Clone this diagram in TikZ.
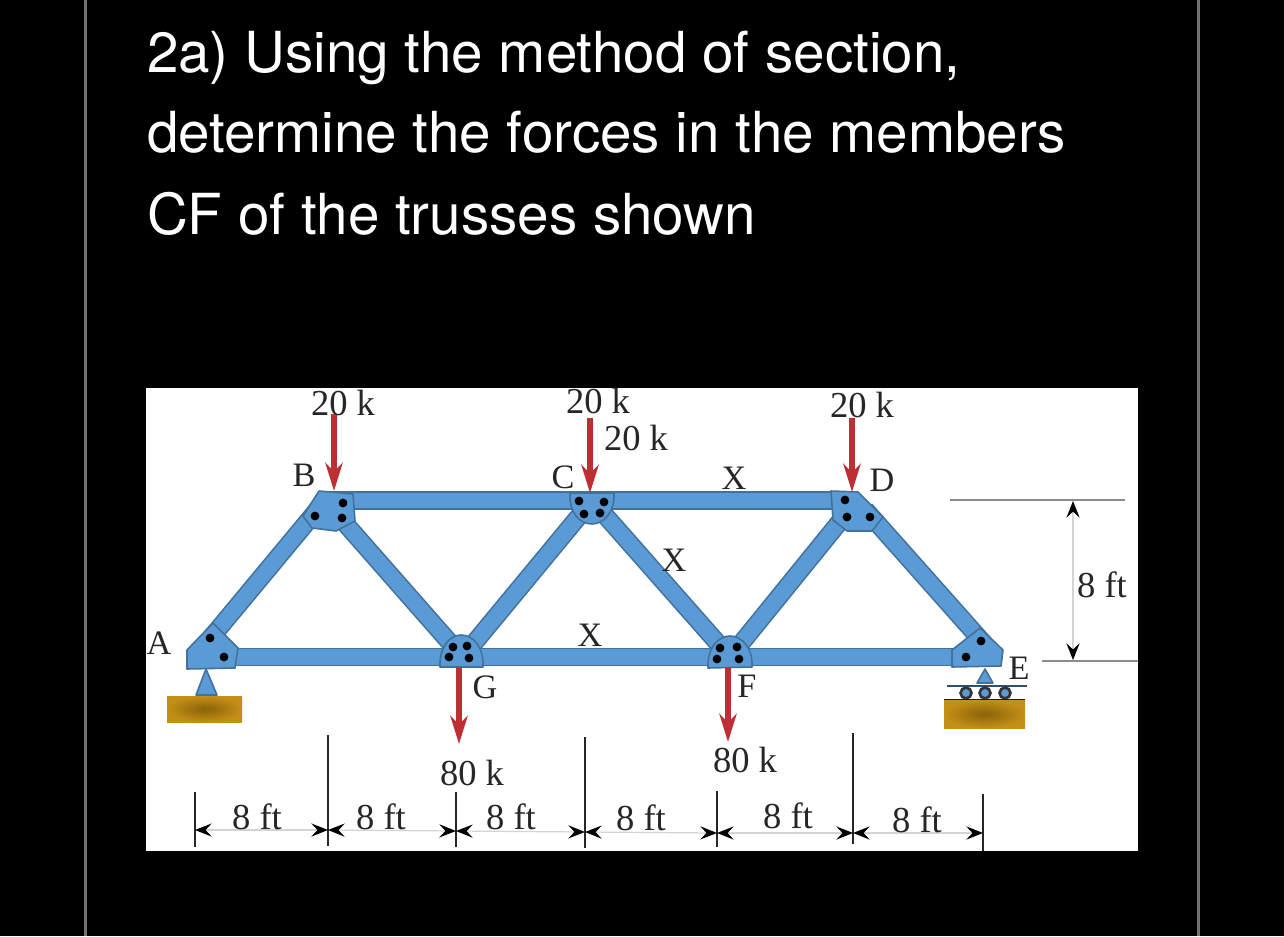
\documentclass[tikz,border=0pt]{standalone}
\usepackage{fontspec}
\setmainfont{Liberation Serif}
\newfontfamily\titlefont{TeX Gyre Heros}
\usetikzlibrary{arrows.meta}
\definecolor{steel}{HTML}{5B9BD5}
\definecolor{steeledge}{HTML}{41719C}
\definecolor{loadred}{HTML}{BE2F35}
\definecolor{dimgray}{HTML}{D4D4D8}
\definecolor{blockout}{HTML}{C48F17}
\definecolor{blockin}{HTML}{8A6208}
\tikzset{
	every node/.style={anchor=base,align=center,inner sep=0pt,outer sep=0pt},
	title/.style={anchor=base west,text=white,font=\titlefont\fontsize{32.2}{36}\selectfont},
	lbl/.style={text=black!85,font=\fontsize{20.8}{24}\selectfont},
	letter/.style={text=black!85,font=\fontsize{19.5}{24}\selectfont},
	member/.style={draw=steeledge,line width=0.9pt,double=steel,double distance=8.8pt},
	diag/.style={member,shorten >=7pt,shorten <=7pt},
	gusset/.style={draw=steeledge,fill=steel,line width=0.9pt,line join=round},
	rivet/.style={circle,fill=black,minimum size=5pt,inner sep=0pt,anchor=center},
	load/.style={-{Stealth[length=16pt,width=9.8pt,inset=5pt]},draw=loadred,line width=3.3pt},
	dim/.style={{Stealth[black,length=9.5pt,width=7.5pt,inset=3.5pt]}-{Stealth[black,length=9.5pt,width=7.5pt,inset=3.5pt]},draw=dimgray,line width=0.7pt},
	tick/.style={draw=black!85,line width=1.1pt},
	thin line/.style={draw=black!45,line width=0.7pt},
	block/.style={inner color=blockin,outer color=blockout,draw=none}
}
\begin{document}
\begin{tikzpicture}[x=0.02cm,y=-0.02cm]
	\useasboundingbox (0,0) rectangle (1284,936);
	\fill[black] (0,0) rectangle (1284,936);
	\fill[black!55] (84,0) rectangle (87,936);
	\fill[black!55] (1197,0) rectangle (1200,936);
	\fill[white] (146,388) rectangle (1138,851);

	\node[title] (line1) at (147,72) {2a) Using the method of section,};
	\node[title] (line2) at (147,153) {determine the forces in the members};
	\node[title] (line3) at (147,234) {CF of the trusses shown};

	% joints
	\coordinate (a) at (195,657);
	\coordinate (b) at (325,500.5);
	\coordinate (c) at (592,500.5);
	\coordinate (d) at (857,500.5);
	\coordinate (e) at (996,657);
	\coordinate (f) at (730,657);
	\coordinate (g) at (462.5,657);

	% members
	\foreach \from/\to in {a/g,g/f,f/e,b/c,c/d}
		\draw[member] (\from) -- (\to);
	\foreach \from/\to in {a/b,b/g,g/c,c/f,f/d,d/e}
		\draw[diag] (\from) -- (\to);

	% gusset plates
	\draw[gusset] (187,650) -- (213,623) -- (238,648) -- (235,668) -- (187,669) -- cycle;
	\draw[gusset] (319,491) -- (353,494) -- (355,521) -- (336,531) -- (312,528) -- (303,516) -- cycle;
	\draw[gusset] (570,493) -- (614,493) .. controls (615,513) and (603,524) .. (592,524) .. controls (580,524) and (569,513) .. (570,493) -- cycle;
	\draw[gusset] (440,667) .. controls (439,647) and (450,635) .. (461,635) .. controls (473,635) and (484,647) .. (483,667) -- cycle;
	\draw[gusset] (708,668) .. controls (707,648) and (718,636) .. (730,636) .. controls (742,636) and (753,648) .. (752,667) -- cycle;
	\draw[gusset] (831,491) -- (858,492) -- (883,517) -- (872,531) -- (847,531) -- (833,520) -- cycle;
	\draw[gusset] (980,628) -- (1003,650) -- (1001,666) -- (952,667) -- (952,650) -- cycle;

	% rivets
	\foreach \x/\y in {210/638,224/657,343/503,315/516,342/518,579/501,604/502,584/514,600/513,453/647,467/646,449/657,469/658,720/648,737/647,717/659,739/659,845/500,847/517,870/517,981/641,966/657}
		\node[rivet] at (\x,\y) {};

	% supports
	\draw[gusset] (206,669) -- (196,695) -- (217,695) -- cycle;
	\shade[block] (167,696) rectangle (242,722);
	\draw[gusset] (985,669) -- (977,683) -- (993,683) -- cycle;
	\draw[steeledge!70!black,line width=0.9pt] (947,686) -- (1027,686);
	\foreach \x in {966,985,1005}
		\draw[draw=black!80,fill=steel,line width=1.5pt] (\x,693) circle (3.1pt);
	\shade[block] (944,700) rectangle (1025,728);
	\draw[red!40!black,line width=0.9pt] (944,699.5) -- (1025,699.5);

	% loads
	\coordinate (loadb) at (334,414);
	\coordinate (loadc) at (590,418);
	\coordinate (loadd) at (852,418);
	\coordinate (loadg) at (459,744);
	\coordinate (loadf) at (728,742);
	\coordinate (tipb) at (334,491);
	\coordinate (tipc) at (590,493);
	\coordinate (tipd) at (852,492);
	\coordinate (topg) at (459,667);
	\coordinate (topf) at (728,667);
	\draw[load] (loadb) -- (tipb);
	\draw[load] (loadc) -- (tipc);
	\draw[load] (loadd) -- (tipd);
	\draw[load] (topg) -- (loadg);
	\draw[load] (topf) -- (loadf);

	\node[lbl] (kb) at (343,415) {20 k};
	\node[lbl] (kc) at (598,413) {20 k};
	\node[lbl] (kx) at (636,450) {20 k};
	\node[lbl] (kd) at (862,417) {20 k};
	\node[lbl] (kg) at (472,785) {80 k};
	\node[lbl] (kf) at (745,772) {80 k};

	\node[letter] (la) at (159,654) {A};
	\node[letter] (lb) at (304,486) {B};
	\node[letter] (lc) at (563,488) {C};
	\node[letter] (ld) at (882,491) {D};
	\node[letter] (le) at (1019,679) {E};
	\node[letter] (lf) at (747,697) {F};
	\node[letter] (lg) at (485,698) {G};
	\node[letter] (xcd) at (734,489) {X};
	\node[letter] (xcf) at (674,571) {X};
	\node[letter] (xgf) at (590,646) {X};

	% dimensions
	\foreach \n/\x/\top/\bot/\dimy in {0/195/792/847/830,1/328/735/846/830,2/456/792/847/831,3/585/737/848/832,4/717/791/847/833,5/853/733/844/833,6/983/794/851/833} {
		\coordinate (t\n) at (\x,\top);
		\coordinate (u\n) at (\x,\bot);
		\coordinate (m\n) at (\x,\dimy);
		\draw[tick] (t\n) -- (u\n);
	}
	\foreach \i/\j in {0/1,1/2,2/3,3/4,4/5,5/6}
		\draw[dim] (m\i) -- (m\j);
	\node[lbl] (s1) at (257,829) {8 ft};
	\node[lbl] (s2) at (381,829) {8 ft};
	\node[lbl] (s3) at (511,829) {8 ft};
	\node[lbl] (s4) at (641,830) {8 ft};
	\node[lbl] (s5) at (788,828) {8 ft};
	\node[lbl] (s6) at (917,832) {8 ft};

	\coordinate (h1) at (950,500);
	\coordinate (h2) at (1125,500);
	\coordinate (h3) at (1042,661);
	\coordinate (h4) at (1138,661);
	\coordinate (v1) at (1073,501);
	\coordinate (v2) at (1073,660);
	\draw[thin line] (h1) -- (h2);
	\draw[thin line] (h3) -- (h4);
	\draw[dim] (v1) -- (v2);
	\node[lbl] (sh) at (1102,597) {8 ft};
\end{tikzpicture}
\end{document}
